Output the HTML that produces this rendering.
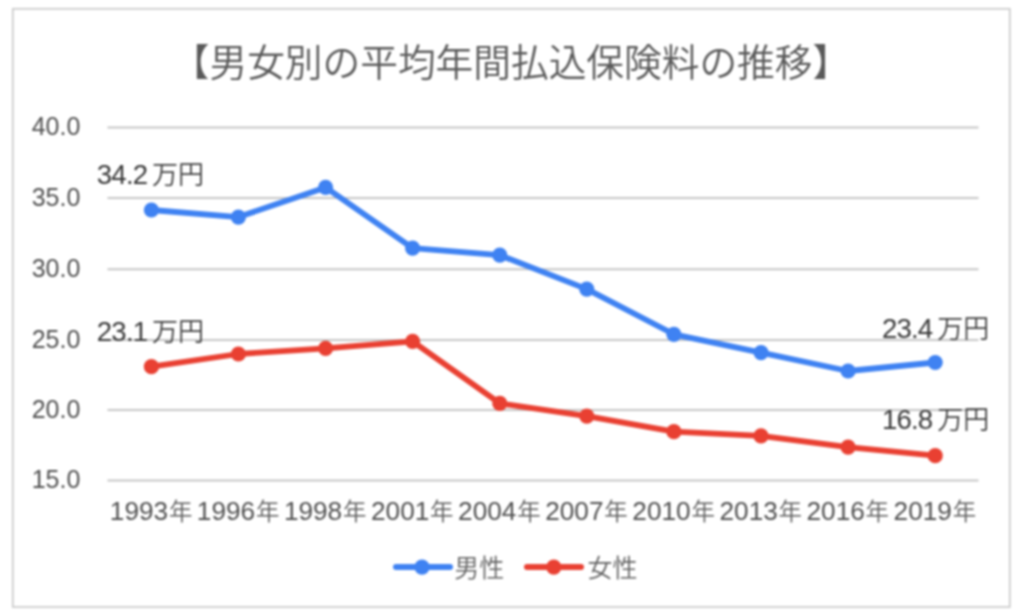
<!DOCTYPE html>
<html lang="ja"><head><meta charset="utf-8"><title>男女別の平均年間払込保険料の推移</title>
<style>
html,body{margin:0;padding:0;background:#fff;}
body{width:1024px;height:616px;overflow:hidden;position:relative;font-family:"Liberation Sans","Noto Sans CJK JP",sans-serif;}
svg{position:absolute;left:0;top:0;display:block;filter:blur(0.8px);}
svg text{font-family:"Liberation Sans","Noto Sans CJK JP",sans-serif;font-weight:350;}
.ax{font-size:26.2px;fill:#505050;}
.xk{font-size:23.5px;fill:#5c5c5c;}
.ay{font-size:25px;fill:#505050;}
.dl{font-size:26px;fill:#404040;word-spacing:-2.4px;}
.ttl{font-size:37.7px;fill:#595959;font-weight:350;}
.lg{font-size:25px;fill:#626262;}
.num{fill:#383838;font-size:27.6px;letter-spacing:-0.8px;}
</style></head><body>
<svg width="1024" height="616" viewBox="0 0 1024 616">
<rect x="0" y="0" width="1024" height="616" fill="#ffffff"/>
<rect x="12.8" y="8.8" width="997" height="598.2" fill="#ffffff" stroke="#cacaca" stroke-width="1.7"/>
<text class="ttl" x="511" y="76" text-anchor="middle">【男女別の平均年間払込保険料の推移】</text>
<line x1="107.5" x2="978.5" y1="480.4" y2="480.4" stroke="#c6c6c6" stroke-width="2"/>
<text class="ay" x="80.3" y="488.0" text-anchor="end">15.0</text>
<line x1="107.5" x2="978.5" y1="410.1" y2="410.1" stroke="#c6c6c6" stroke-width="2"/>
<text class="ay" x="80.3" y="417.7" text-anchor="end">20.0</text>
<line x1="107.5" x2="978.5" y1="339.9" y2="339.9" stroke="#c6c6c6" stroke-width="2"/>
<text class="ay" x="80.3" y="347.5" text-anchor="end">25.0</text>
<line x1="107.5" x2="978.5" y1="269.3" y2="269.3" stroke="#c6c6c6" stroke-width="2"/>
<text class="ay" x="80.3" y="276.9" text-anchor="end">30.0</text>
<line x1="107.5" x2="978.5" y1="197.9" y2="197.9" stroke="#c6c6c6" stroke-width="2"/>
<text class="ay" x="80.3" y="205.5" text-anchor="end">35.0</text>
<line x1="107.5" x2="978.5" y1="127.4" y2="127.4" stroke="#c6c6c6" stroke-width="2"/>
<text class="ay" x="80.3" y="135.0" text-anchor="end">40.0</text>
<text class="ax" x="151.1" y="520" text-anchor="middle">1993<tspan class="xk" dx="0.8">年</tspan></text>
<text class="ax" x="238.1" y="520" text-anchor="middle">1996<tspan class="xk" dx="0.8">年</tspan></text>
<text class="ax" x="325.2" y="520" text-anchor="middle">1998<tspan class="xk" dx="0.8">年</tspan></text>
<text class="ax" x="412.3" y="520" text-anchor="middle">2001<tspan class="xk" dx="0.8">年</tspan></text>
<text class="ax" x="499.4" y="520" text-anchor="middle">2004<tspan class="xk" dx="0.8">年</tspan></text>
<text class="ax" x="586.5" y="520" text-anchor="middle">2007<tspan class="xk" dx="0.8">年</tspan></text>
<text class="ax" x="673.6" y="520" text-anchor="middle">2010<tspan class="xk" dx="0.8">年</tspan></text>
<text class="ax" x="760.8" y="520" text-anchor="middle">2013<tspan class="xk" dx="0.8">年</tspan></text>
<text class="ax" x="847.8" y="520" text-anchor="middle">2016<tspan class="xk" dx="0.8">年</tspan></text>
<text class="ax" x="934.9" y="520" text-anchor="middle">2019<tspan class="xk" dx="0.8">年</tspan></text>
<polyline points="151.4,210.0 238.4,217.1 325.6,187.4 412.6,248.1 499.8,255.2 586.8,289.1 673.9,334.3 761.0,352.6 848.1,371.0 935.2,362.5" fill="none" stroke="#3f82f2" stroke-width="5.8" stroke-linejoin="round" stroke-linecap="round"/>
<circle cx="151.4" cy="210.0" r="7.6" fill="#3f82f2"/>
<circle cx="238.4" cy="217.1" r="7.6" fill="#3f82f2"/>
<circle cx="325.6" cy="187.4" r="7.6" fill="#3f82f2"/>
<circle cx="412.6" cy="248.1" r="7.6" fill="#3f82f2"/>
<circle cx="499.8" cy="255.2" r="7.6" fill="#3f82f2"/>
<circle cx="586.8" cy="289.1" r="7.6" fill="#3f82f2"/>
<circle cx="673.9" cy="334.3" r="7.6" fill="#3f82f2"/>
<circle cx="761.0" cy="352.6" r="7.6" fill="#3f82f2"/>
<circle cx="848.1" cy="371.0" r="7.6" fill="#3f82f2"/>
<circle cx="935.2" cy="362.5" r="7.6" fill="#3f82f2"/>
<polyline points="151.4,366.7 238.4,354.0 325.6,348.4 412.6,341.3 499.8,403.4 586.8,416.1 673.9,431.7 761.0,435.9 848.1,447.2 935.2,455.7" fill="none" stroke="#e94032" stroke-width="5.8" stroke-linejoin="round" stroke-linecap="round"/>
<circle cx="151.4" cy="366.7" r="7.6" fill="#e94032"/>
<circle cx="238.4" cy="354.0" r="7.6" fill="#e94032"/>
<circle cx="325.6" cy="348.4" r="7.6" fill="#e94032"/>
<circle cx="412.6" cy="341.3" r="7.6" fill="#e94032"/>
<circle cx="499.8" cy="403.4" r="7.6" fill="#e94032"/>
<circle cx="586.8" cy="416.1" r="7.6" fill="#e94032"/>
<circle cx="673.9" cy="431.7" r="7.6" fill="#e94032"/>
<circle cx="761.0" cy="435.9" r="7.6" fill="#e94032"/>
<circle cx="848.1" cy="447.2" r="7.6" fill="#e94032"/>
<circle cx="935.2" cy="455.7" r="7.6" fill="#e94032"/>
<text class="dl" transform="translate(96.8,183.5) scale(1,1.02)" text-anchor="start"><tspan class="num">34.2</tspan> 万円</text>
<text class="dl" transform="translate(96.8,340.5) scale(1,1.02)" text-anchor="start"><tspan class="num">23.1</tspan> 万円</text>
<text class="dl" transform="translate(989.2,337.5) scale(1,1.02)" text-anchor="end"><tspan class="num">23.4</tspan> 万円</text>
<text class="dl" transform="translate(989.2,429.0) scale(1,1.02)" text-anchor="end"><tspan class="num">16.8</tspan> 万円</text>
<line x1="396" x2="450" y1="567.1" y2="567.1" stroke="#3f82f2" stroke-width="6" stroke-linecap="round"/><circle cx="422" cy="567.1" r="7.7" fill="#3f82f2"/>
<text class="lg" x="454.3" y="577">男性</text>
<line x1="527" x2="581" y1="567.1" y2="567.1" stroke="#e94032" stroke-width="6" stroke-linecap="round"/><circle cx="553.8" cy="567.1" r="7.7" fill="#e94032"/>
<text class="lg" x="587.5" y="577">女性</text>
</svg>
</body></html>
